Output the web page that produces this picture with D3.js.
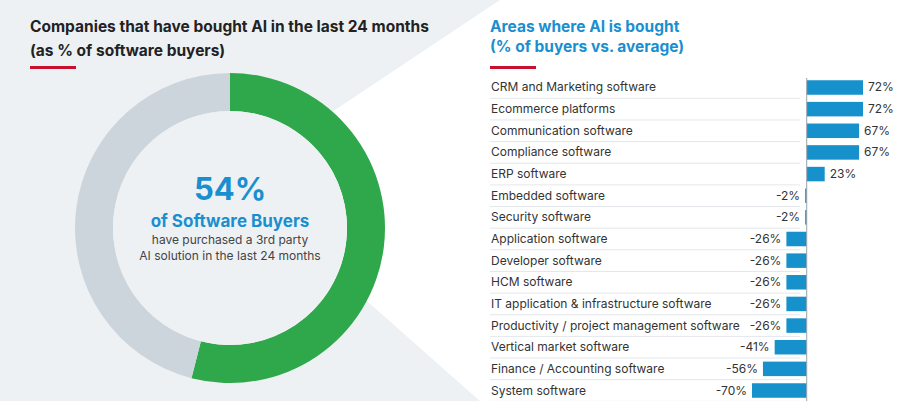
<!DOCTYPE html><html><head><meta charset="utf-8"><script src="https://cdn.jsdelivr.net/npm/d3@7"></script>
<style>body{margin:0;background:#fff}svg{font-family:Inter,"Open Sans",sans-serif}</style></head><body><script>
const categories=["CRM and Marketing software","Ecommerce platforms","Communication software","Compliance software","ERP software","Embedded software","Security software","Application software","Developer software","HCM software","IT application & infrastructure software","Productivity / project management software","Vertical market software","Finance / Accounting software","System software"];
const values=[72,72,67,67,23,-2,-2,-26,-26,-26,-26,-26,-41,-56,-70];
const donutValues=[54,46];
const svg=d3.select("body").append("svg").attr("width",900).attr("height",401);
svg.append("polygon").attr("points","0,0 500,0 230,180 480,401 0,401").attr("fill","#eef1f4");
const g=svg.append("g").attr("transform","translate(230,228)");
const pie=d3.pie().sort(null)(donutValues);
const arc=d3.arc().innerRadius(117).outerRadius(155);
g.selectAll("path").data(pie).join("path").attr("d",arc).attr("fill",(d,i)=>i?"#cdd5dc":"#2ea84a");
g.append("circle").attr("r",117).attr("fill","#eef1f4");
g.append("text").attr("y",-28).attr("text-anchor","middle").attr("font-size",31).attr("font-weight","bold").attr("fill","#1a8fcf").text("54%");
g.append("text").attr("y",-1).attr("text-anchor","middle").attr("font-size",17).attr("font-weight","bold").attr("fill","#1a8fcf").text("of Software Buyers");
g.append("text").attr("y",16).attr("text-anchor","middle").attr("font-size",12).attr("fill","#444").text("have purchased a 3rd party");
g.append("text").attr("y",32).attr("text-anchor","middle").attr("font-size",12).attr("fill","#444").text("AI solution in the last 24 months");
svg.append("text").attr("x",30).attr("y",32).attr("font-size",15.5).attr("font-weight","bold").attr("fill","#222").text("Companies that have bought AI in the last 24 months");
svg.append("text").attr("x",30).attr("y",56).attr("font-size",15.5).attr("font-weight","bold").attr("fill","#222").text("(as % of software buyers)");
svg.append("rect").attr("x",30).attr("y",66).attr("width",46).attr("height",3).attr("fill","#c8102e");
svg.append("text").attr("x",490).attr("y",32).attr("font-size",15.5).attr("font-weight","bold").attr("fill","#1a8fcf").text("Areas where AI is bought");
svg.append("text").attr("x",490).attr("y",52).attr("font-size",15.5).attr("font-weight","bold").attr("fill","#1a8fcf").text("(% of buyers vs. average)");
svg.append("rect").attr("x",490).attr("y",66).attr("width",46).attr("height",3).attr("fill","#c8102e");
const y=d3.scaleBand().domain(categories).range([77,401]).paddingInner(0.33).paddingOuter(0.15);
const x=d3.scaleLinear().domain([-70,72]).range([752,863]);
const step=y.step();
categories.forEach((c,i)=>{
 const cy=y(c)+y.bandwidth()/2, v=values[i];
 svg.append("line").attr("x1",490).attr("x2",800).attr("y1",cy+step/2).attr("y2",cy+step/2).attr("stroke","#e3e7eb");
 svg.append("text").attr("x",491).attr("y",cy+4).attr("font-size",12).attr("fill","#333").text(c);
 svg.append("rect").attr("x",Math.min(x(0),x(v))).attr("y",y(c)).attr("width",Math.abs(x(v)-x(0))).attr("height",y.bandwidth()).attr("fill","#1791cc");
 svg.append("text").attr("x",v>=0?x(v)+5:x(v)-5).attr("y",cy+4).attr("text-anchor",v>=0?"start":"end").attr("font-size",12).attr("fill","#333").text(v+"%");
});
svg.append("line").attr("x1",x(0)).attr("x2",x(0)).attr("y1",78).attr("y2",401).attr("stroke","#9aa4ad");
</script></body></html>
